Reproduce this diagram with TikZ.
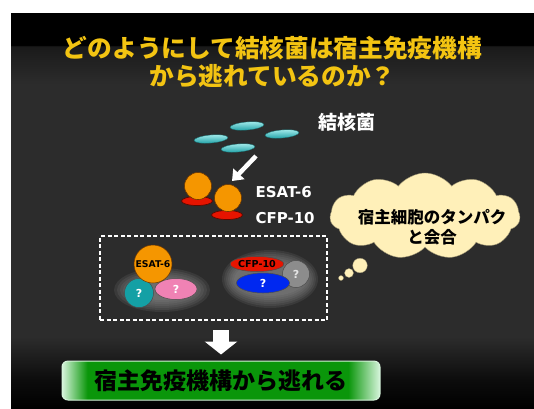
\documentclass[tikz,border=0pt]{standalone}
\usepackage{fontspec}
\usepackage{tikz}
\usetikzlibrary{positioning,arrows.meta,shapes.geometric,shapes.symbols}

\newfontfamily\jp{Noto Sans CJK JP}
\newfontfamily\lat{DejaVu Sans}

\definecolor{titlegold}{RGB}{243,196,18}
\definecolor{bgmid}{RGB}{44,44,44}
\definecolor{bgdeep}{RGB}{12,12,12}
\definecolor{bgtop}{RGB}{26,26,26}
\definecolor{bacil}{RGB}{70,210,210}
\definecolor{bacildark}{RGB}{30,160,165}
\definecolor{orng}{RGB}{245,150,0}
\definecolor{orngedge}{RGB}{110,55,0}
\definecolor{discred}{RGB}{230,20,0}
\definecolor{tealq}{RGB}{20,160,165}
\definecolor{pinkq}{RGB}{240,130,180}
\definecolor{blueq}{RGB}{0,40,240}
\definecolor{greyq}{RGB}{140,140,140}
\definecolor{cloudy}{RGB}{255,240,185}
\definecolor{barlight}{RGB}{215,245,220}
\definecolor{bargreen}{RGB}{10,150,10}

% dark slide background and the green result bar
\pgfdeclareverticalshading{slidebg}{100bp}{color(0bp)=(black); color(25bp)=(black); color(28.5bp)=(bgdeep); color(34bp)=(bgmid); color(66bp)=(bgmid); color(70.8bp)=(bgtop); color(70.9bp)=(black); color(100bp)=(black)}
\pgfdeclarehorizontalshading{greenbar}{100bp}{color(0bp)=(barlight); color(25bp)=(barlight); color(29bp)=(bargreen); color(70bp)=(bargreen); color(75bp)=(barlight); color(100bp)=(barlight)}

\begin{document}
\begin{tikzpicture}[x=1pt,y=-1pt,>=Latex,
	bacillus/.style={top color=bacil!55!white,bottom color=bacildark,draw=bacildark!70!black,line width=0.3pt},
	ball/.style={circle,fill=orng,draw=orngedge,line width=0.6pt,minimum size=27pt,inner sep=0pt},
	disc/.style={ellipse,fill=discred,draw=discred!40!black,line width=0.7pt,minimum width=31pt,minimum height=9pt,inner sep=0pt},
	protname/.style={text=white,font=\lat\bfseries\fontsize{15}{15}\selectfont,anchor=west},
	mol/.style={draw=black!70,line width=0.5pt,inner sep=0pt,text=white,font=\lat\bfseries\fontsize{11}{11}\selectfont},
	glow/.style={fill=gray!80!white,opacity=0.13},
	bubble/.style={circle,fill=cloudy,draw=cloudy!60!black,line width=0.3pt,inner sep=0pt},
	]
			
			\useasboundingbox (0,0) rectangle (534,408);
			\fill[white] (0,0) rectangle (534,408);
			\shade[shading=slidebg] (11,13) rectangle (534,408);
			
			% title
			\node[text=titlegold,align=center,font=\jp\bfseries\fontsize{24.7}{28}\selectfont] (title) at (272.5,62) {どのようにして結核菌は宿主免疫機構\\から逃れているのか？};
			
			% bacilli
			\foreach \x/\y in {247/126,211/139,282/134,238/148}
			{
				\shade[bacillus,rotate around={5:(\x,\y)}] (\x,\y) ellipse (17 and 4);
			}
			\node[anchor=west,text=white,font=\jp\bfseries\fontsize{19}{19}\selectfont] (tb) at (315,122) {結核菌};
			
			\coordinate (bacdown) at (256,156);
			\coordinate (ballup) at (232,181);
			\draw[white,line width=4.5pt,-{Triangle[length=10pt,width=15pt]}] (bacdown) -- (ballup);
			
			% secreted proteins
			\node[disc] (discA) at (197,201) {};
			\node[ball] (ballA) at (198,186) {};
			\node[disc] (discB) at (227,215) {};
			\node[ball] (ballB) at (228,198) {};
			\node[protname] (esatname) at (252,192) {ESAT-6};
			\node[protname] (cfpname) at (252,218) {CFP-10};
			
			% thought cloud
			\node[bubble,minimum size=5pt] (bubC) at (341,278) {};
			\node[bubble,minimum size=9pt] (bubB) at (349,273) {};
			\node[bubble,minimum size=14.6pt] (bubA) at (360,265.5) {};
			\node[cloud,cloud puffs=11,cloud puff arc=105,aspect=2.2,fill=cloudy,draw=cloudy!60!black,line width=0.4pt,minimum width=190pt,minimum height=86pt,inner sep=0pt] (hostcloud) at (425,216) {};
			\node[align=center,font=\jp\bfseries\fontsize{16.5}{20}\selectfont] (hosttext) at (432,227) {宿主細胞のタンパク\\と会合};
			
			% complexes with host proteins
			\node[draw=white,dash pattern=on 4pt off 2.5pt,line width=1.3pt,minimum width=227pt,minimum height=84pt,inner sep=0pt] (frame) at (213.5,278) {};
			
			\foreach \k in {0,...,6}
			{
				\fill[glow] (162,290) ellipse ({30+3*\k} and {10+2*\k});
				\fill[glow] (270,279) ellipse ({36+2*\k} and {17+2*\k});
			}
			
			\node[mol,ellipse,fill=pinkq,minimum width=42pt,minimum height=21pt] (pinkq) at (176,289) {?};
			\node[mol,circle,fill=tealq,minimum size=29pt] (tealq) at (139,293) {?};
			\node[mol,circle,fill=orng,draw=orngedge,minimum size=38pt,text=black,font=\lat\bfseries\fontsize{9.3}{9.3}\selectfont] (esat) at (153,264) {ESAT-6};
			
			\node[mol,circle,fill=greyq,minimum size=27pt,text=white!80!gray] (greyq) at (296,274) {?};
			\node[mol,ellipse,fill=blueq,minimum width=53pt,minimum height=20pt] (blueq) at (263,283) {?};
			\node[mol,ellipse,fill=discred,minimum width=52pt,minimum height=15pt,text=black,font=\lat\bfseries\fontsize{9.6}{9.6}\selectfont] (cfp) at (257,264) {CFP-10};
			
			% outcome
			\node[shade,shading=greenbar,draw=barlight,line width=1pt,rounded corners=6pt,minimum width=318pt,minimum height=39pt,inner sep=0pt,font=\jp\bfseries\fontsize{23}{23}\selectfont] (result) at (221,380.5) {宿主免疫機構から逃れる};
			
			\coordinate (framegap) at (221,330);
			\draw[white,line width=16pt,-{Triangle[length=13pt,width=32pt]},shorten >=6pt] (framegap) -- (result.north);
			
		\end{tikzpicture}
\end{document}
